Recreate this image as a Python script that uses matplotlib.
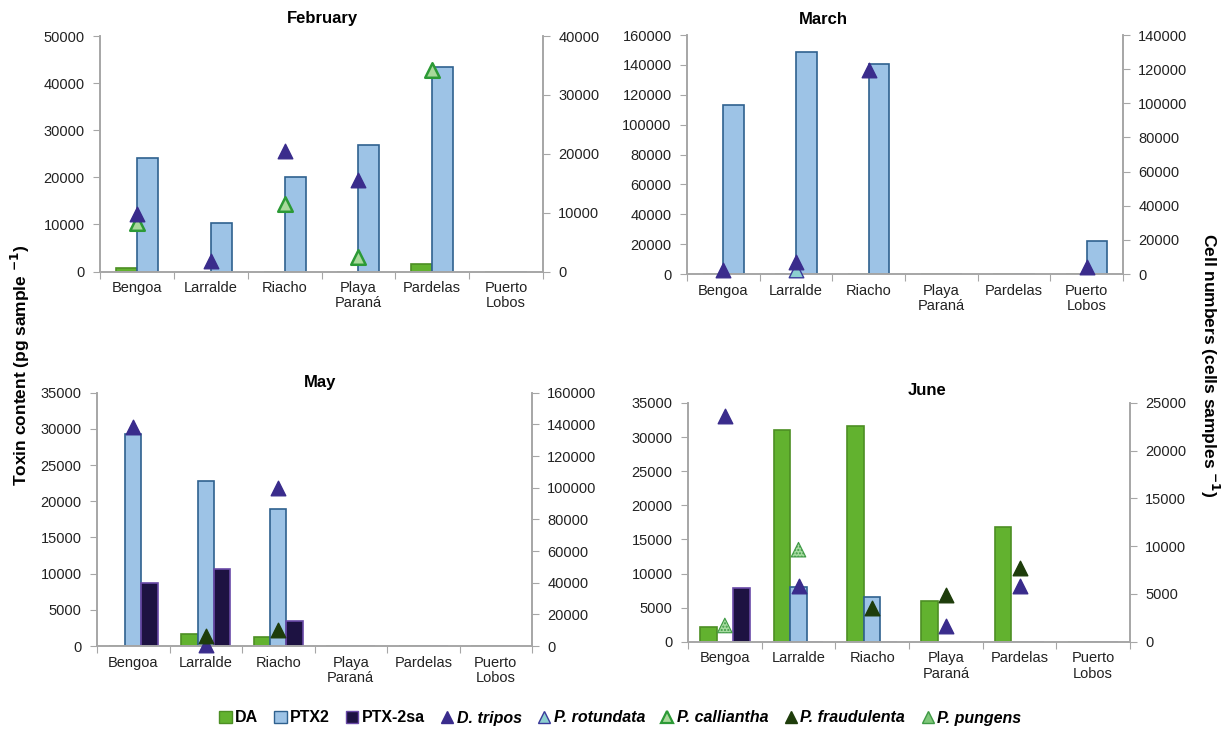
import numpy as np
import matplotlib
matplotlib.use('Agg')
from matplotlib import pyplot as plt
from matplotlib.lines import Line2D
from matplotlib.patches import Patch

plt.rcParams['font.family'] = ['Liberation Sans', 'DejaVu Sans']

sites = ['Bengoa', 'Larralde', 'Riacho', 'Playa\nParaná', 'Pardelas', 'Puerto\nLobos']
months = ['February', 'March', 'May', 'June']

# toxin content (pg sample-1), left axis
da = {
    'February': [720, 0, 0, 0, 1640, 0],
    'March': [0, 0, 0, 0, 0, 0],
    'May': [0, 1620, 1200, 0, 0, 0],
    'June': [2160, 0, 0, 5990, 16790, 0],
}
da['June'] = [2160, 31020, 31610, 5990, 16790, 0]
ptx2 = {
    'February': [24100, 10400, 20000, 26900, 43500, 0],
    'March': [113000, 148400, 140500, 0, 0, 22300],
    'May': [29300, 22800, 18900, 0, 0, 0],
    'June': [0, 7950, 6580, 0, 0, 0],
}
ptx2sa = {
    'May': [8660, 10600, 3500, 0, 0, 0],
    'June': [7900, 0, 0, 0, 0, 0],
}

# cell numbers (cells samples-1), right axis; None = not shown
d_tripos = {
    'February': [9700, 1800, 20500, 15500, None, None],
    'March': [2200, 7300, 119500, None, None, 4100],
    'May': [138500, 500, 99600, None, None, None],
    'June': [23600, 5860, None, 1600, 5800, None],
}
p_rotundata = {
    'March': [None, 2200, None, None, None, None],
}
p_calliantha = {
    'February': [8200, None, 11500, 2500, 34300, None],
}
p_fraudulenta = {
    'May': [None, 6600, 9900, None, None, None],
    'June': [None, None, 3580, 4860, 7750, None],
}
p_pungens = {
    'June': [1700, 9640, None, None, None, None],
}

left_lim = {'February': (50000, 10000), 'March': (160000, 20000),
            'May': (35000, 5000), 'June': (35000, 5000)}
right_lim = {'February': (40000, 10000), 'March': (140000, 20000),
             'May': (160000, 20000), 'June': (25000, 5000)}

W, H = 1227, 731
boxes = {  # left, top, right, bottom in pixels
    'February': (100, 36, 543, 271.5),
    'March': (687, 35, 1123, 274),
    'May': (97, 392.7, 532, 646),
    'June': (688, 403, 1130, 641.7),
}
titles_x = {'February': 322, 'March': 823, 'May': 320, 'June': 927}
titles_y = {'February': 18, 'March': 19, 'May': 383, 'June': 391}

c_da, e_da = '#62b22f', '#4d8f24'
c_ptx2, e_ptx2 = '#9dc3e6', '#2f618f'
c_sa, e_sa = '#1d1242', '#6a4aa8'
c_trip = '#3a2c8c'
spine_c = '#a6a6a6'

fig = plt.figure(figsize=(W / 100, H / 100), dpi=100)

x = np.arange(len(sites))

for m in months:
    l, t, r, b = boxes[m]
    ax = fig.add_axes([l / W, 1 - b / H, (r - l) / W, (b - t) / H])
    ax2 = ax.twinx()

    series = [(da[m], c_da, e_da), (ptx2[m], c_ptx2, e_ptx2)]
    if m in ptx2sa:
        series.append((ptx2sa[m], c_sa, e_sa))
    n = len(series)
    w = 0.285 if n == 2 else 0.225
    for i, (vals, fc, ec) in enumerate(series):
        off = (i - (n - 1) / 2) * w
        ax.bar(x + off, vals, width=w, color=fc, edgecolor=ec, linewidth=1.2, zorder=2)

    def tri(d, fc, ec, hatch=None, lw=1.0):
        if m not in d:
            return
        xs = [xi for xi, v in zip(x, d[m]) if v is not None]
        ys = [v for v in d[m] if v is not None]
        ax2.scatter(xs, ys, marker='^', s=110, c=fc, edgecolors=ec, linewidths=lw,
                    hatch=hatch, zorder=3, clip_on=False)

    tri(p_calliantha, '#a9d99b', '#2c9a36', lw=1.8)
    tri(p_rotundata, '#8ccfd0', '#3a3a9a')
    tri(d_tripos, c_trip, c_trip)
    tri(p_fraudulenta, '#1e3d0b', '#1e3d0b')
    tri(p_pungens, '#a6dba0', '#3f9a45', hatch='.....', lw=0.8)

    top, step = left_lim[m]
    ax.set_ylim(0, top)
    ax.set_yticks(np.arange(0, top + 1, step))
    top2, step2 = right_lim[m]
    ax2.set_ylim(0, top2)
    ax2.set_yticks(np.arange(0, top2 + 1, step2))
    ax.set_xlim(-0.5, len(sites) - 0.5)

    ax.set_xticks(np.arange(-0.5, len(sites)), minor=False)
    ax.set_xticklabels([])
    ax.set_xticks(x, minor=True)
    ax.set_xticklabels(sites, minor=True, fontsize=10.5, color='#222222', linespacing=1.1)
    ax.tick_params(axis='x', which='minor', length=0, pad=7)
    ax.tick_params(axis='x', which='major', length=5, color=spine_c, direction='out')
    ax.tick_params(axis='y', length=5, color=spine_c, labelsize=10.5, labelcolor='#222222', pad=6)
    ax2.tick_params(axis='y', length=5, color=spine_c, labelsize=10.5, labelcolor='#222222', pad=6)

    for a in (ax, ax2):
        a.spines['top'].set_visible(False)
        for s in ('left', 'right', 'bottom'):
            a.spines[s].set_color(spine_c)
            a.spines[s].set_linewidth(1.2)

    fig.text(titles_x[m] / W, 1 - titles_y[m] / H, m, ha='center', va='center',
             fontsize=12, fontweight='bold')

fig.text(20 / W, 0.5, 'Toxin content (pg sample $^{\\mathbf{-1}}$)', rotation=90,
         ha='center', va='center', fontsize=12.5, fontweight='bold')
fig.text(1210 / W, 0.5, 'Cell numbers (cells samples $^{\\mathbf{-1}}$)', rotation=270,
         ha='center', va='center', fontsize=12.5, fontweight='bold')

handles = [
    Patch(facecolor=c_da, edgecolor=e_da),
    Patch(facecolor=c_ptx2, edgecolor=e_ptx2),
    Patch(facecolor=c_sa, edgecolor=e_sa),
    Line2D([], [], ls='', marker='^', ms=9, mfc=c_trip, mec=c_trip),
    Line2D([], [], ls='', marker='^', ms=9, mfc='#8ccfd0', mec='#3a3a9a'),
    Line2D([], [], ls='', marker='^', ms=9, mfc='#a9d99b', mec='#2c9a36', mew=1.6),
    Line2D([], [], ls='', marker='^', ms=9, mfc='#1e3d0b', mec='#1e3d0b'),
    Line2D([], [], ls='', marker='^', ms=9, mfc='#7fc77a', mec='#3f9a45'),
]
labels = ['DA', 'PTX2', 'PTX-2sa', 'D. tripos', 'P. rotundata', 'P. calliantha',
          'P. fraudulenta', 'P. pungens']
leg = fig.legend(handles, labels, loc='center', bbox_to_anchor=(620 / W, 1 - 718 / H),
                 ncol=8, frameon=False, handlelength=0.8, handletextpad=0.2,
                 columnspacing=1.0, prop={'size': 11.5, 'weight': 'bold'})
for i, txt in enumerate(leg.get_texts()):
    if i >= 3:
        txt.set_fontstyle('italic')

fig.savefig('out.png', dpi=100)
